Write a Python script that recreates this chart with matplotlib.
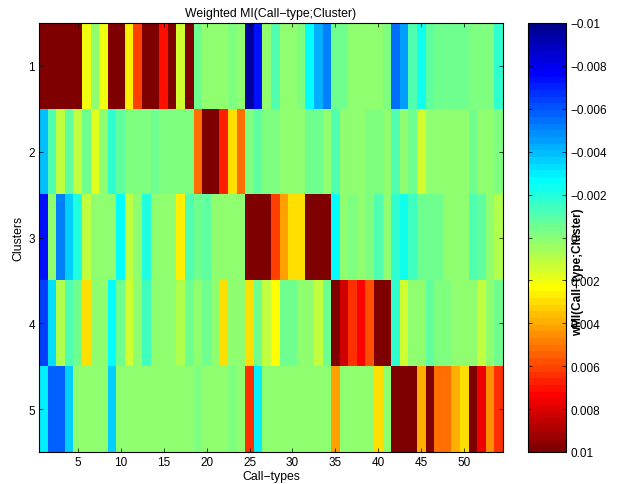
import numpy as np
import matplotlib
matplotlib.use("Agg")
import matplotlib.pyplot as plt
from matplotlib.colors import ListedColormap
from matplotlib.ticker import FixedLocator, FixedFormatter

plt.rcParams['font.family'] = ['Liberation Sans', 'DejaVu Sans']

title = "Weighted MI(Call\u2212type;Cluster)"
xlabel = "Call\u2212types"
ylabel = "Clusters"
cbar_label = "wMI(Call\u2212type;Cluster)"

clusters = [1, 2, 3, 4, 5]
call_types = list(range(1, 55))
xticks = [5, 10, 15, 20, 25, 30, 35, 40, 45, 50]
cbar_ticks = [-0.01, -0.008, -0.006, -0.004, -0.002, 0, 0.002, 0.004, 0.006, 0.008, 0.01]
cbar_ticklabels = ["\u22120.01", "\u22120.008", "\u22120.006", "\u22120.004", "\u22120.002", "0",
                   "0.002", "0.004", "0.006", "0.008", "0.01"]

cluster1 = [0.01, 0.01, 0.01, 0.01, 0.01, 0.002, 0.00016, 0.002, 0.01, 0.01,
            0.0027, 0.0061, 0.01, 0.01, 0.007, 0.01, 0.0014, 0.01, -0.00047, 0.00016,
            0.00016, 0.00016, -0.00016, 0.00016, -0.0095, -0.0073, 0.00016, -0.0011, 0.00016, 0.00016,
            -0.00016, -0.0027, -0.0042, -0.0052, -0.00047, -0.00047, 0.00016, 0.00016, 0.00016, 0.00016,
            -0.00016, -0.0055, -0.0045, -0.0011, -0.0025, -0.00078, -0.00047, -0.00047, -0.00047, -0.00047,
            -0.00016, -0.00016, -0.00016, -0.0016]
cluster2 = [-0.004, -0.001, 0.0011, -0.00078, 0.0011, -0.00047, 0.0017, 0.00016, -0.0017, -0.00078,
            -0.00016, -0.00016, -0.00016, -0.00047, -0.00016, -0.00016, -0.00016, -0.00016, 0.0052, 0.01,
            0.01, 0.0067, 0.003, 0.0052, -0.00016, -0.00078, -0.00016, -0.00016, 0.00016, 0.00016,
            0.00016, -0.00047, -0.00047, 0.00016, -0.001, 0.00016, 0.00016, 0.00016, -0.00016, -0.00016,
            0.00016, -0.0011, 0.00016, -0.00047, 0.0014, 0.00016, 0.00016, 0.00016, 0.00016, 0.00016,
            -0.00047, 0.00016, 0.00016, -0.00016]
cluster3 = [-0.0075, 0.00016, -0.0052, -0.0036, -0.002, 0.0011, 0.00016, 0.00016, 0.00016, -0.0027,
            0.0011, 0.00016, -0.002, 0.00016, 0.00016, 0.00016, 0.0025, -0.0011, -0.00047, -0.00078,
            0.00016, 0.00016, 0.00016, 0.00016, 0.01, 0.01, 0.01, 0.0061, 0.0042, 0.0031,
            0.0031, 0.01, 0.01, 0.01, -0.0027, 0.00016, -0.00016, 0.00016, -0.0003, -0.0011,
            0.00016, -0.0017, -0.0025, -0.0014, -0.00047, -0.00047, -0.00047, 0.00016, 0.00016, 0.00016,
            -0.0011, -0.00078, 0.00016, 0.0008]
cluster4 = [-0.0064, -0.0033, 0.0008, -0.001, -0.00047, 0.003, 0.00016, 0.00016, -0.0027, -0.00047,
            0.0015, 0.00016, -0.0014, 0.00016, 0.00016, 0.00016, 0.0008, -0.00047, 0.00016, -0.00047,
            0.00016, 0.0031, 0.00016, 0.00016, 0.003, -0.00047, 0.0011, 0.0023, -0.00047, -0.00047,
            0.00016, 0.00016, 0.0012, -0.00047, 0.01, 0.0083, 0.0064, 0.0073, 0.0058, 0.01,
            0.01, -0.0017, 0.0015, 0.00016, 0.00016, -0.00078, -0.00016, -0.00016, 0.00016, 0.00016,
            0.00016, 0.0012, 0.00016, -0.00047]
cluster5 = [-0.0031, -0.0059, -0.0059, -0.0035, 0.00016, 0.00016, 0.00016, 0.00016, -0.0036, 0.00016,
            0.00016, 0.00016, 0.00016, 0.00016, 0.00016, 0.00016, 0.00016, 0.00016, -0.00016, 0.00016,
            0.00016, 0.00016, -0.00016, 0.00016, 0.0064, -0.003, 0.00016, 0.00016, 0.00016, 0.00016,
            0.00016, 0.00016, 0.00016, 0.00016, 0.0042, 0.00016, 0.00016, 0.00016, 0.00016, 0.003,
            0.00016, 0.01, 0.01, 0.01, 0.0039, 0.01, 0.0052, 0.0052, 0.0039, 0.003,
            0.01, 0.0077, 0.0045, 0.0064]

data = np.array([cluster1, cluster2, cluster3, cluster4, cluster5])


def matlab_jet(n=64):
    m = int(np.ceil(n / 4))
    u = np.concatenate([np.arange(1, m + 1) / m, np.ones(m - 1), np.arange(m, 0, -1) / m])
    g = int(np.ceil(m / 2)) - (1 if n % 4 == 1 else 0) + np.arange(1, len(u) + 1)
    r = g + m
    b = g - m
    J = np.zeros((n, 3))
    for ch, idx in ((0, r), (1, g), (2, b)):
        ok = (idx >= 1) & (idx <= n)
        J[idx[ok] - 1, ch] = u[ok]
    return ListedColormap(J)


W, H = 620, 485
fig = plt.figure(figsize=(W / 100, H / 100), dpi=100)
ax = fig.add_axes([39 / W, (H - 453) / H, 464 / W, 429 / H])
cax = fig.add_axes([528 / W, (H - 453) / H, 38 / W, 429 / H])

x0, x1 = call_types[0] - 0.5, call_types[-1] + 0.5
y0, y1 = clusters[0] - 0.5, clusters[-1] + 0.5
im = ax.imshow(data, cmap=matlab_jet(64), vmin=-0.01, vmax=0.01, aspect='auto',
               interpolation='nearest', extent=[x0, x1, y1, y0])

ax.set_xticks(xticks)
ax.set_yticks(clusters)
ax.tick_params(direction='in', length=3, width=0.5, labelsize=8.5, top=True, right=True, pad=3)
for s in ax.spines.values():
    s.set_linewidth(0.8)
ax.set_title(title, fontsize=8.8, pad=5)
ax.set_xlabel(xlabel, fontsize=8.8, labelpad=1)
ax.set_ylabel(ylabel, fontsize=8.8, labelpad=3)

cb = fig.colorbar(im, cax=cax)
cb.outline.set_linewidth(0.8)
cax.yaxis.set_major_locator(FixedLocator(cbar_ticks))
cax.yaxis.set_major_formatter(FixedFormatter(cbar_ticklabels))
cax.invert_yaxis()
cax.tick_params(direction='in', length=3, width=0.5, labelsize=8.5, left=True, right=True, pad=3)
fig.text(578 / W, (H - 272) / H, cbar_label, rotation=90, fontsize=8.5, fontweight='bold',
         ha='center', va='center')

fig.savefig("out.png", dpi=100)
